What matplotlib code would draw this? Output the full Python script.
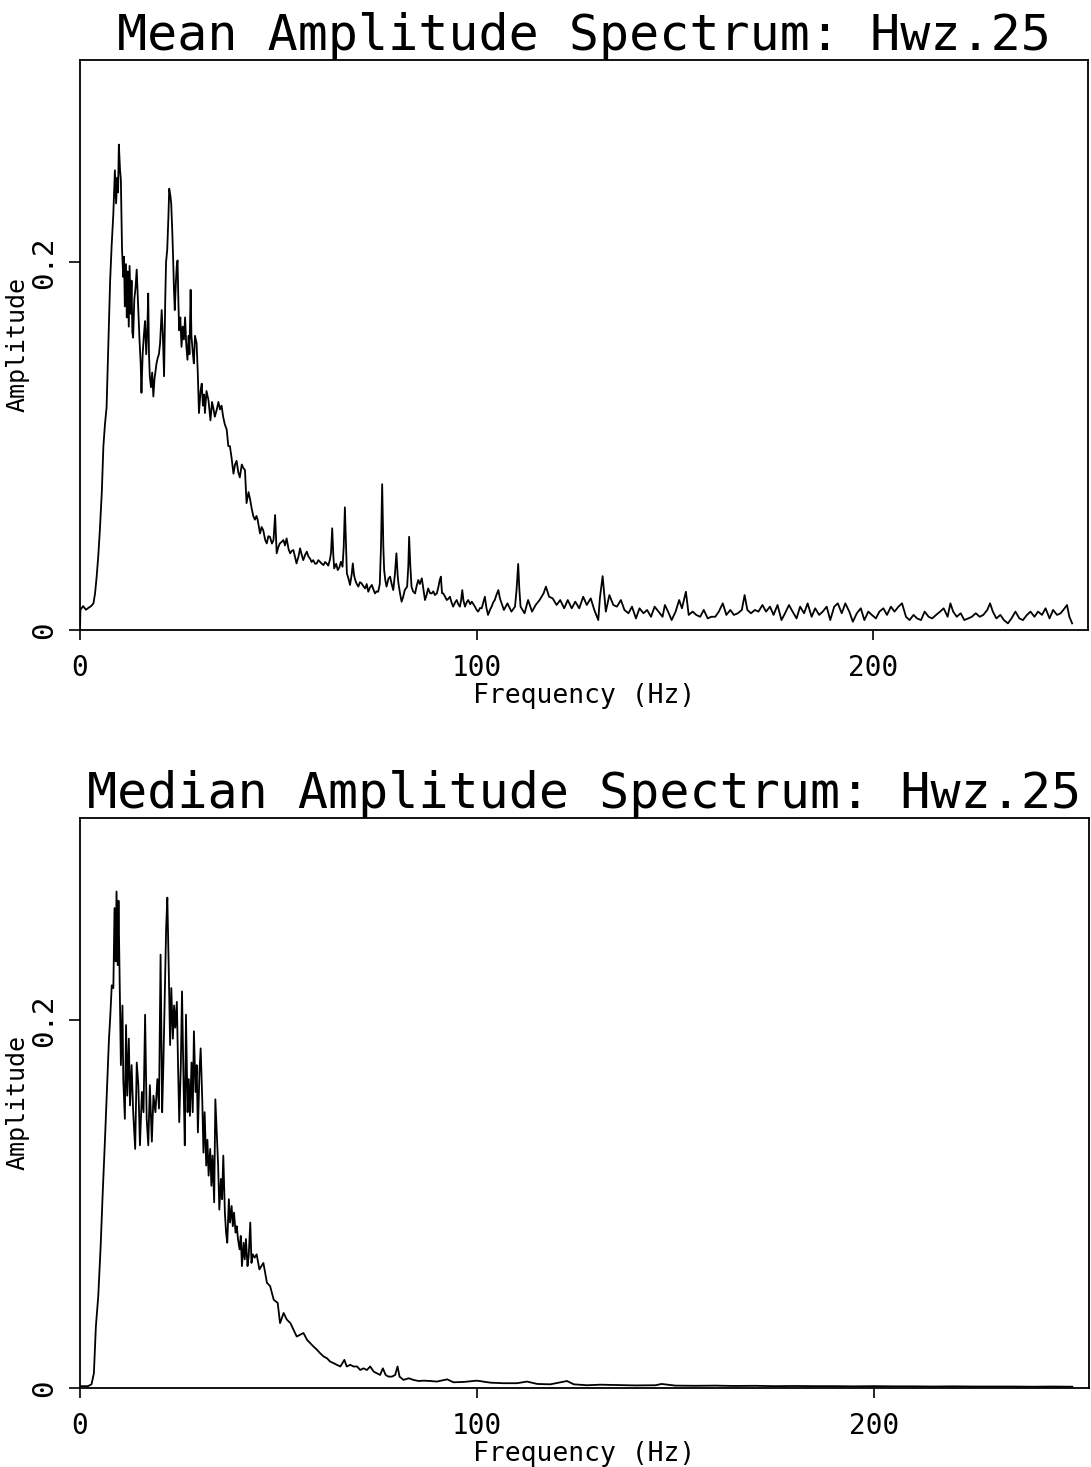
import numpy as np
import matplotlib
matplotlib.use('Agg')
import matplotlib.pyplot as plt

plt.rcParams['font.family'] = ['DejaVu Sans Mono', 'DejaVu Sans']

# mean amplitude spectrum
mean_freq = [
    0.0, 0.1, 0.8, 1.5, 2.1, 2.8, 3.4, 3.8, 4.2, 4.6, 5.0, 5.5, 5.9, 6.3, 6.7, 7.2, 7.6, 8.0, 8.4, 8.8,
    9.1, 9.4, 9.6, 9.8, 10.1, 10.3, 10.6, 10.9, 11.1, 11.3, 11.6, 11.8, 12.0, 12.3, 12.5, 12.8, 13.0, 13.2, 13.4, 13.7,
    14.0, 14.3, 14.6, 15.0, 15.3, 15.5, 15.8, 16.1, 16.4, 16.7, 17.0, 17.2, 17.4, 17.6, 17.9, 18.2, 18.5, 18.8, 19.0, 19.3,
    19.6, 19.9, 20.2, 20.6, 20.9, 21.2, 21.5, 21.7, 22.0, 22.3, 22.5, 22.8, 23.0, 23.3, 23.5, 23.7, 23.9, 24.2, 24.4, 24.6,
    24.8, 25.0, 25.3, 25.6, 25.9, 26.2, 26.5, 26.8, 27.1, 27.4, 27.6, 27.9, 28.1, 28.4, 28.7, 29.0, 29.4, 29.7, 30.0, 30.4,
    30.7, 31.0, 31.3, 31.5, 31.9, 32.4, 32.9, 33.3, 33.6, 34.0, 34.5, 34.9, 35.3, 35.7, 36.1, 36.5, 37.0, 37.4, 37.8, 38.2,
    38.7, 39.1, 39.5, 39.9, 40.3, 40.8, 41.2, 41.6, 42.0, 42.5, 42.9, 43.3, 43.7, 44.1, 44.5, 44.8,
    45.4, 45.8, 46.2, 46.7, 47.1, 47.5, 47.9, 48.4, 48.8, 49.2, 49.6, 50.0, 50.4, 50.9, 51.3, 51.7, 52.1, 52.6, 53.0, 53.4,
    53.8, 54.2, 54.6, 55.1, 55.5, 55.9, 56.3, 56.8, 57.2, 57.6, 58.0, 58.4, 58.8, 59.3, 59.7, 60.1, 60.5, 61.0, 61.4, 61.8,
    62.2, 62.6, 63.0, 63.3, 63.6, 63.9, 64.1, 64.6, 65.0, 65.4, 65.8, 66.2, 66.5, 66.8, 67.1, 67.3, 67.7, 68.1, 68.5, 68.8,
    69.1, 69.4, 69.8, 70.2, 70.6, 71.0, 71.4, 71.9, 72.3, 72.7, 73.1, 73.6, 74.0, 74.4, 74.8, 75.2, 75.6, 75.9, 76.2, 76.5,
    76.7, 77.0, 77.3, 77.8, 78.2, 78.6, 79.0, 79.4, 79.8, 80.1, 80.3, 80.7, 81.1, 81.5, 81.9, 82.5, 82.8, 83.0, 83.3, 83.6,
    84.0, 84.5, 84.9, 85.3, 85.7, 86.2, 86.6, 87.0, 87.4, 87.8, 88.3, 88.7, 89.1, 89.5, 90.0, 90.4, 90.7, 91.0, 91.3, 91.6,
    92.1, 92.5, 92.9, 93.3, 93.7, 94.1, 94.6, 95.0, 95.4, 95.8, 96.1, 96.4, 96.7, 97.1, 97.5, 97.9, 98.4, 98.8, 99.2, 99.6,
    100.0, 100.4, 100.9, 101.3, 101.7, 102.1, 102.5, 102.9, 103.4, 103.8, 104.2, 104.6, 105.0, 105.5, 105.9,
    106.9, 107.8, 108.8, 109.7, 110.1, 110.5, 110.8, 111.1, 112.1, 113.0, 114.0, 114.9, 115.9, 116.9, 117.5, 118.3, 119.2, 120.2,
    121.1, 122.1, 123.0, 124.0, 124.9, 125.9, 126.9, 127.8, 128.8, 129.7, 130.7, 131.1, 131.8, 132.6, 133.5, 134.5, 135.4, 136.4,
    137.3, 138.3, 139.2, 140.2, 141.1, 142.1, 143.0, 144.0, 144.9, 145.9, 146.9, 147.5, 148.3, 149.2, 150.2, 151.1, 151.8, 152.8,
    153.5, 154.5, 155.4, 156.4, 157.3, 158.3, 159.2, 160.2, 161.1, 162.1, 163.0, 164.0, 164.9, 165.9, 166.9, 167.6, 168.3, 169.2,
    170.2, 171.1, 172.1, 173.0, 174.0, 174.9, 175.9, 176.9, 177.8, 178.8, 179.7, 180.7, 181.6, 182.6, 183.5, 184.5, 185.4, 186.4,
    187.3, 188.3, 189.2, 190.2, 191.1, 192.1, 193.0, 194.0, 194.9, 195.9, 196.9, 197.8, 198.8, 199.7, 200.7, 201.6, 202.6, 203.5,
    204.5, 205.4, 206.4, 207.3, 208.3, 209.2, 210.2, 211.1, 212.1, 213.0, 214.0, 214.9, 215.9, 216.9, 217.8, 218.8, 219.5, 220.2,
    221.1, 222.1, 223.0, 224.0, 224.9, 225.9, 226.9, 227.8, 228.8, 229.5, 230.2, 231.1, 232.1, 233.0, 234.0, 234.9, 235.9, 236.9,
    237.8, 238.8, 239.7, 240.7, 241.6, 242.6, 243.5, 244.5, 245.4, 246.4, 247.3, 248.3, 248.9, 249.5, 250.2,
]
mean_amp = [
    0.0, 0.011, 0.013, 0.011, 0.012, 0.013, 0.0145, 0.02, 0.029, 0.040, 0.054, 0.075, 0.100, 0.112, 0.121, 0.160, 0.190, 0.210, 0.226, 0.250,
    0.232, 0.246, 0.238, 0.264, 0.250, 0.245, 0.207, 0.192, 0.203, 0.176, 0.199, 0.170, 0.195, 0.165, 0.198, 0.172, 0.190, 0.162, 0.159, 0.180,
    0.186, 0.196, 0.180, 0.158, 0.145, 0.129, 0.150, 0.160, 0.168, 0.150, 0.165, 0.183, 0.150, 0.138, 0.132, 0.140, 0.127, 0.137, 0.140, 0.145,
    0.148, 0.150, 0.156, 0.174, 0.160, 0.138, 0.180, 0.200, 0.207, 0.225, 0.240, 0.236, 0.232, 0.215, 0.201, 0.185, 0.174, 0.190, 0.198, 0.201,
    0.180, 0.163, 0.170, 0.154, 0.165, 0.158, 0.170, 0.155, 0.147, 0.160, 0.150, 0.185, 0.160, 0.152, 0.145, 0.160, 0.156, 0.140, 0.118, 0.130,
    0.134, 0.122, 0.128, 0.118, 0.130, 0.125, 0.114, 0.124, 0.121, 0.116, 0.120, 0.124, 0.120, 0.122, 0.116, 0.112, 0.109, 0.100, 0.100, 0.094,
    0.085, 0.090, 0.092, 0.086, 0.083, 0.090, 0.088, 0.087, 0.069, 0.075, 0.071, 0.066, 0.062, 0.060, 0.062, 0.060,
    0.0525, 0.056, 0.0543, 0.049, 0.0471, 0.051, 0.0507, 0.047, 0.0489, 0.0625, 0.0417, 0.045, 0.0471, 0.048, 0.0489, 0.046, 0.0498, 0.044, 0.0417, 0.043,
    0.0435, 0.040, 0.0362, 0.040, 0.0444, 0.041, 0.0380, 0.041, 0.0426, 0.040, 0.0389, 0.037, 0.0380, 0.036, 0.0362, 0.038, 0.0371, 0.036, 0.0353, 0.037,
    0.0362, 0.035, 0.0380, 0.042, 0.0553, 0.040, 0.0335, 0.036, 0.0326, 0.034, 0.0371, 0.0344, 0.045, 0.0667, 0.045, 0.0308, 0.028, 0.0245, 0.030, 0.0362,
    0.030, 0.0272, 0.025, 0.0236, 0.026, 0.0254, 0.024, 0.0226, 0.025, 0.0208, 0.023, 0.0245, 0.022, 0.0199, 0.021, 0.0208, 0.025, 0.045, 0.0793, 0.045,
    0.0326, 0.027, 0.0236, 0.028, 0.0290, 0.025, 0.0217, 0.030, 0.0417, 0.030, 0.0254, 0.020, 0.0154, 0.018, 0.0217, 0.0236, 0.035, 0.0507, 0.035, 0.0236,
    0.021, 0.0199, 0.024, 0.0272, 0.025, 0.0281, 0.022, 0.0163, 0.019, 0.0226, 0.020, 0.0199, 0.021, 0.0190, 0.020, 0.0236, 0.027, 0.0290, 0.020, 0.0199,
    0.018, 0.0163, 0.017, 0.0181, 0.015, 0.0127, 0.015, 0.0163, 0.014, 0.0127, 0.016, 0.0217, 0.016, 0.0127, 0.015, 0.0163, 0.014, 0.0154, 0.014, 0.0127,
    0.011, 0.0100, 0.012, 0.0118, 0.015, 0.0181, 0.012, 0.0082, 0.011, 0.0127, 0.015, 0.0163, 0.019, 0.0217, 0.0172,
    0.0109, 0.0145, 0.0100, 0.0127, 0.022, 0.0359, 0.022, 0.0127, 0.0091, 0.0163, 0.0100, 0.0136, 0.0163, 0.0199, 0.0236, 0.0181, 0.0172, 0.0136,
    0.0163, 0.0118, 0.0163, 0.0118, 0.0154, 0.0118, 0.0181, 0.0136, 0.0172, 0.0109, 0.0054, 0.0172, 0.0293, 0.0100, 0.0190, 0.0136, 0.0127, 0.0163,
    0.0109, 0.0091, 0.0127, 0.0063, 0.0118, 0.0091, 0.0109, 0.0072, 0.0127, 0.0100, 0.0072, 0.0136, 0.0100, 0.0054, 0.0100, 0.0163, 0.0118, 0.0208,
    0.0082, 0.0100, 0.0082, 0.0072, 0.0109, 0.0063, 0.0072, 0.0072, 0.0100, 0.0145, 0.0082, 0.0109, 0.0082, 0.0091, 0.0109, 0.0190, 0.0109, 0.0091,
    0.0109, 0.0100, 0.0136, 0.0100, 0.0127, 0.0082, 0.0136, 0.0054, 0.0091, 0.0136, 0.0100, 0.0063, 0.0127, 0.0091, 0.0145, 0.0072, 0.0118, 0.0082,
    0.0100, 0.0127, 0.0054, 0.0127, 0.0145, 0.0091, 0.0145, 0.0100, 0.0045, 0.0091, 0.0118, 0.0054, 0.0100, 0.0082, 0.0063, 0.0100, 0.0118, 0.0082,
    0.0127, 0.0100, 0.0127, 0.0145, 0.0072, 0.0054, 0.0082, 0.0063, 0.0054, 0.0100, 0.0072, 0.0063, 0.0082, 0.0100, 0.0118, 0.0072, 0.0145, 0.0100,
    0.0072, 0.0091, 0.0054, 0.0063, 0.0072, 0.0091, 0.0072, 0.0082, 0.0109, 0.0145, 0.0100, 0.0063, 0.0082, 0.0054, 0.0036, 0.0063, 0.0100, 0.0063,
    0.0054, 0.0082, 0.0100, 0.0072, 0.0100, 0.0082, 0.0118, 0.0063, 0.0109, 0.0082, 0.0091, 0.0118, 0.0136, 0.0072, 0.0036,
]

# median amplitude spectrum
median_freq = [
    0.0, 1.0, 2.0, 2.9, 3.5, 4.0, 4.6, 5.2, 5.7, 6.3, 6.9, 7.3, 7.6, 8.0, 8.4, 8.7, 9.0, 9.2, 9.5, 9.7,
    10.1, 10.3, 10.7, 10.9, 11.3, 11.6, 11.9, 12.3, 12.6, 13.0, 13.4, 13.9, 14.3, 14.7, 15.1, 15.6, 16.0, 16.4, 16.8, 17.2,
    17.6, 18.1, 18.5, 19.0, 19.5, 19.9, 20.3, 20.7, 21.0, 21.3, 21.7, 22.0, 22.4, 22.7, 23.0, 23.4, 23.7, 24.0, 24.4, 24.7,
    25.0, 25.4, 25.7, 26.1, 26.4, 26.7, 27.1, 27.4, 27.7, 28.1, 28.4, 28.7, 29.1, 29.4, 29.7, 30.1, 30.4, 30.8, 31.1, 31.4,
    31.8, 32.1, 32.4, 32.8, 33.1, 33.4, 33.8, 34.1, 34.5, 34.8, 35.1, 35.5, 35.8, 36.1, 36.5, 36.8, 37.1, 37.5, 37.8, 38.2,
    38.5, 38.8, 39.2, 39.5, 39.8, 40.2, 40.5, 40.8, 41.2, 41.5, 41.8, 42.2, 42.5, 42.9, 43.2, 43.5, 44.0, 44.5, 45.2,
    46.2, 47.1, 47.9, 48.8, 49.8, 50.4, 51.3, 52.1, 53.0, 53.8, 54.6, 55.5, 56.3, 57.2, 58.0, 58.8, 59.7, 60.5, 61.4, 62.2,
    63.0, 63.9, 64.7, 65.6, 66.6, 67.2, 68.1, 68.9, 69.8, 70.6, 71.4, 72.3, 73.1, 74.0, 74.8, 75.6, 76.3, 77.0, 77.7, 78.6,
    79.4, 80.0, 80.5, 81.5, 82.8, 84.0, 85.3, 86.6, 88.3, 89.9, 92.5, 94.1, 96.7, 100.0, 103.4, 106.7, 110.1, 112.6, 115.2, 118.5,
    122.7, 124.4, 127.7, 131.1, 135.0, 140.0, 145.0, 146.5, 150.0, 155.0, 160.0, 165.0, 170.0, 175.0, 180.0, 185.0, 190.0, 195.0, 200.0, 205.0,
    210.0, 215.0, 220.0, 225.0, 230.0, 235.0, 240.0, 245.0, 250.0,
]
median_amp = [
    0.001, 0.001, 0.001, 0.002, 0.008, 0.0335, 0.050, 0.077, 0.105, 0.1355, 0.168, 0.190, 0.201, 0.219, 0.2175, 0.261, 0.232, 0.270, 0.230, 0.265,
    0.208, 0.1756, 0.208, 0.168, 0.1464, 0.1974, 0.159, 0.190, 0.1537, 0.1756, 0.150, 0.130, 0.177, 0.1647, 0.132, 0.161, 0.150, 0.203, 0.1464, 0.132,
    0.1647, 0.134, 0.159, 0.150, 0.168, 0.152, 0.2357, 0.150, 0.1756, 0.208, 0.250, 0.2667, 0.223, 0.1865, 0.2175, 0.190, 0.208, 0.196, 0.210, 0.1756,
    0.1446, 0.1756, 0.2157, 0.1647, 0.132, 0.203, 0.150, 0.168, 0.148, 0.177, 0.150, 0.194, 0.161, 0.1756, 0.139, 0.172, 0.1847, 0.157, 0.128, 0.150,
    0.121, 0.135, 0.1155, 0.130, 0.110, 0.1264, 0.101, 0.157, 0.137, 0.121, 0.097, 0.1137, 0.1027, 0.1264, 0.0954, 0.0845, 0.079, 0.1027, 0.090, 0.099,
    0.088, 0.0954, 0.0845, 0.088, 0.081, 0.0754, 0.0827, 0.0663, 0.079, 0.070, 0.081, 0.0663, 0.0718, 0.090, 0.068, 0.0727, 0.0709, 0.0727, 0.0645,
    0.068, 0.0572, 0.0554, 0.048, 0.0463, 0.0353, 0.0408, 0.0372, 0.0353, 0.0317, 0.028, 0.029, 0.0299, 0.0262, 0.0244, 0.0226, 0.0208, 0.0189, 0.0171, 0.0162,
    0.0144, 0.0135, 0.0126, 0.0117, 0.0153, 0.0117, 0.0126, 0.0117, 0.0117, 0.0098, 0.0107, 0.0098, 0.0117, 0.0089, 0.008, 0.0071, 0.0107, 0.0071, 0.0062, 0.0062,
    0.0071, 0.0117, 0.0062, 0.0044, 0.0053, 0.0044, 0.0038, 0.004, 0.0038, 0.0035, 0.0047, 0.0031, 0.0033, 0.004, 0.0029, 0.0026, 0.0026, 0.0035, 0.0022, 0.002,
    0.0038, 0.002, 0.0015, 0.0018, 0.0016, 0.0014, 0.0015, 0.0022, 0.0013, 0.0012, 0.0013, 0.0011, 0.0012, 0.0010, 0.0011, 0.0010, 0.0010, 0.0009, 0.0010, 0.0009,
    0.0009, 0.0008, 0.0009, 0.0008, 0.0008, 0.0008, 0.0007, 0.0008, 0.0007,
]

titles = ['Mean Amplitude Spectrum: Hwz.25', 'Median Amplitude Spectrum: Hwz.25']
x_ticks = [0, 100, 200]
x_ticklabels = ['0', '100', '200']
y_ticks = [0, 0.2]
y_ticklabels = ['0', '0.2']

W, H = 1091, 1467
fig = plt.figure(figsize=(W / 100, H / 100), dpi=100)

panels = [
    (fig.add_axes([80 / W, 1 - 630 / H, 1008 / W, 570 / H]), mean_freq, mean_amp, titles[0]),
    (fig.add_axes([80 / W, 1 - 1388 / H, 1009 / W, 570 / H]), median_freq, median_amp, titles[1]),
]

for ax, f, a, title in panels:
    ax.plot(f, a, color='black', lw=1.3)
    ax.set_xlim(0, 254.2)
    ax.set_ylim(0, 0.31)
    ax.set_xticks(x_ticks)
    ax.set_xticklabels(x_ticklabels)
    ax.set_yticks(y_ticks)
    ax.set_yticklabels(y_ticklabels, rotation=90, va='center')
    ax.tick_params(axis='x', direction='out', length=7, width=1.2, labelsize=20, pad=10)
    ax.tick_params(axis='y', direction='out', length=8, width=1.2, labelsize=21, pad=8)
    for s in ax.spines.values():
        s.set_linewidth(1.3)
    ax.set_xlabel('Frequency (Hz)', fontsize=19, labelpad=1)
    ax.set_ylabel('Amplitude', fontsize=18)
    ax.yaxis.set_label_coords(-0.05, 0.5)
    ax.set_title(title, fontsize=36, pad=6)

fig.savefig('out.png', dpi=100)
